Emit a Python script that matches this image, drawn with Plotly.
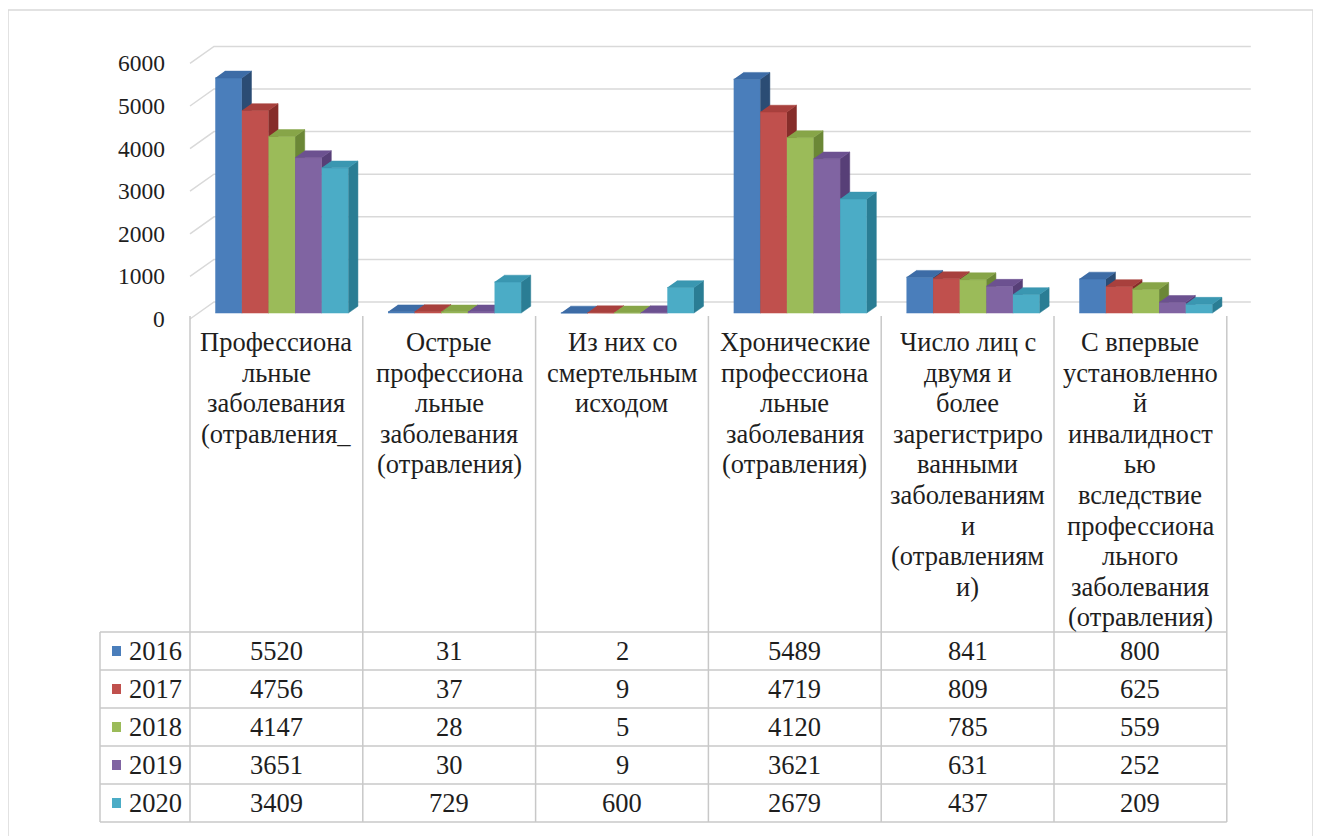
import plotly.graph_objects as go

# ---------------- data ----------------
categories = [
    ["Профессиона", "льные", "заболевания", "(отравления_"],
    ["Острые", "профессиона", "льные", "заболевания", "(отравления)"],
    ["Из них со", "смертельным", "исходом"],
    ["Хронические", "профессиона", "льные", "заболевания", "(отравления)"],
    ["Число лиц с", "двумя и", "более", "зарегистриро", "ванными", "заболеваниям", "и", "(отравлениям", "и)"],
    ["С впервые", "установленно", "й", "инвалидност", "ью", "вследствие", "профессиона", "льного", "заболевания", "(отравления)"],
]
years = ["2016", "2017", "2018", "2019", "2020"]
v2016 = [5520, 31, 2, 5489, 841, 800]
v2017 = [4756, 37, 9, 4719, 809, 625]
v2018 = [4147, 28, 5, 4120, 785, 559]
v2019 = [3651, 30, 9, 3621, 631, 252]
v2020 = [3409, 729, 600, 2679, 437, 209]
series = [v2016, v2017, v2018, v2019, v2020]
y_ticks = [0, 1000, 2000, 3000, 4000, 5000, 6000]

front_colors = ["#4A7EBB", "#C0504D", "#9BBB59", "#8064A2", "#4BACC6"]
side_colors = ["#2B4C74", "#862D2A", "#6B8736", "#573F77", "#2A7D94"]
top_colors = ["#3D6CA6", "#A8403D", "#87A548", "#6C5190", "#3A97B1"]

# ---------------- geometry (page pixel calibration) ----------------
OFF = 8                           # browser body margin
W, H = 1321 - OFF, 836 - OFF
PX0, PXW = 190.0, 172.8          # page pixel of category -0.5, pixels per category
PY0, PYS = 319.0, 0.0426         # page pixel of value 0 (front), pixels per value unit
DX = 24.0 / PXW                  # depth shift in x units for full depth
DY = 17.0 / PYS                  # depth shift in y units for full depth
D0, D1 = 0.35, 0.75              # bar depth extent
BW = 0.154                       # bar width (category units)
GSHIFT = -3.0 / PXW              # small horizontal shift of bar clusters

x_rng = [(OFF - PX0) / PXW - 0.5, (OFF + W - PX0) / PXW - 0.5]
y_rng = [(PY0 - (OFF + H)) / PYS, (PY0 - OFF) / PYS]


def P(x, v, d):
    return x + d * DX, v + d * DY


def pxp(px):
    return (px - OFF) / W


def pyp(py):
    return 1 - (py - OFF) / H


fig = go.Figure()

# back wall & left wall gridlines
gx, gy = [], []
for t in y_ticks:
    a = P(-0.5, t, 0)
    b = P(-0.5, t, 1)
    c = P(5.5, t, 1)
    gx += [a[0], b[0], c[0], None]
    gy += [a[1], b[1], c[1], None]
fig.add_trace(go.Scatter(x=gx, y=gy, mode="lines", line=dict(color="#D9D9D9", width=1.5),
                         hoverinfo="skip", showlegend=False))

# 3D bars
for i, vals in enumerate(series):
    fx, fy, sx, sy, tx, ty = [], [], [], [], [], []
    for k, v in enumerate(vals):
        x0 = k - 2.5 * BW + i * BW + GSHIFT
        x1 = x0 + BW
        pts = [P(x0, 0, D0), P(x1, 0, D0), P(x1, v, D0), P(x0, v, D0)]
        fx += [p[0] for p in pts] + [None]
        fy += [p[1] for p in pts] + [None]
        pts = [P(x1, 0, D0), P(x1, 0, D1), P(x1, v, D1), P(x1, v, D0)]
        sx += [p[0] for p in pts] + [None]
        sy += [p[1] for p in pts] + [None]
        pts = [P(x0, v, D0), P(x1, v, D0), P(x1, v, D1), P(x0, v, D1)]
        tx += [p[0] for p in pts] + [None]
        ty += [p[1] for p in pts] + [None]
    for xs, ys, col in ((fx, fy, front_colors[i]), (sx, sy, side_colors[i]), (tx, ty, top_colors[i])):
        fig.add_trace(go.Scatter(x=xs, y=ys, mode="lines", fill="toself", fillcolor=col,
                                 line=dict(color=col, width=0.5), hoverinfo="skip",
                                 showlegend=False, name=years[i]))

FONT = "Liberation Serif"
FS = 26.5
TXT = "#1E1E1E"
annotations = []
shapes = []

# y tick labels
for t in y_ticks:
    annotations.append(dict(x=pxp(167), xref="paper", y=t, yref="y", text=str(t), showarrow=False,
                            xanchor="right", yanchor="middle", font=dict(family=FONT, size=23.5)))

# table
LINE = "#C8C8C8"
row_lines = [632, 670, 708, 746, 784, 822]
col_edges = [-0.5 + k for k in range(7)]
for xe in col_edges:
    shapes.append(dict(type="line", xref="x", yref="paper", x0=xe, x1=xe,
                       y0=pyp(316), y1=pyp(row_lines[-1]), line=dict(color=LINE, width=1.5)))
shapes.append(dict(type="line", xref="paper", yref="paper", x0=pxp(100), x1=pxp(100),
                   y0=pyp(row_lines[0]), y1=pyp(row_lines[-1]), line=dict(color=LINE, width=1.5)))
for ry in row_lines:
    shapes.append(dict(type="line", xref="paper", yref="paper",
                       x0=pxp(100), x1=pxp(PX0 + 6 * PXW),
                       y0=pyp(ry), y1=pyp(ry), line=dict(color=LINE, width=1.5)))

# header texts
LS = 30.6
for k, lines in enumerate(categories):
    for j, ln in enumerate(lines):
        annotations.append(dict(x=k, xref="x", y=pyp(342 + j * LS), yref="paper", text=ln,
                                showarrow=False, xanchor="center", yanchor="middle",
                                font=dict(family=FONT, size=FS)))

# rows
for i, vals in enumerate(series):
    cy = (row_lines[i] + row_lines[i + 1]) / 2
    shapes.append(dict(type="rect", xref="paper", yref="paper", x0=pxp(112), x1=pxp(121),
                       y0=pyp(cy - 5), y1=pyp(cy + 5), fillcolor=front_colors[i],
                       line=dict(width=0)))
    annotations.append(dict(x=pxp(127), xref="paper", y=pyp(cy), yref="paper", text=years[i],
                            showarrow=False, xanchor="left", yanchor="middle",
                            font=dict(family=FONT, size=FS)))
    for k, v in enumerate(vals):
        annotations.append(dict(x=k, xref="x", y=pyp(cy), yref="paper", text=str(v),
                                showarrow=False, xanchor="center", yanchor="middle",
                                font=dict(family=FONT, size=FS)))

# outer frame
shapes.append(dict(type="rect", xref="paper", yref="paper", x0=pxp(8), x1=pxp(1313),
                   y0=pyp(850), y1=pyp(10), line=dict(color="#D9D9D9", width=1.5)))

fig.update_layout(
    width=W, height=H, margin=dict(l=0, r=0, t=0, b=0),
    font=dict(family=FONT, size=FS, color=TXT),
    paper_bgcolor="white", plot_bgcolor="white",
    xaxis=dict(range=x_rng, visible=False, domain=[0, 1], fixedrange=True),
    yaxis=dict(range=y_rng, visible=False, domain=[0, 1], fixedrange=True),
    showlegend=False, annotations=annotations, shapes=shapes,
)
fig.write_html("out.html")
